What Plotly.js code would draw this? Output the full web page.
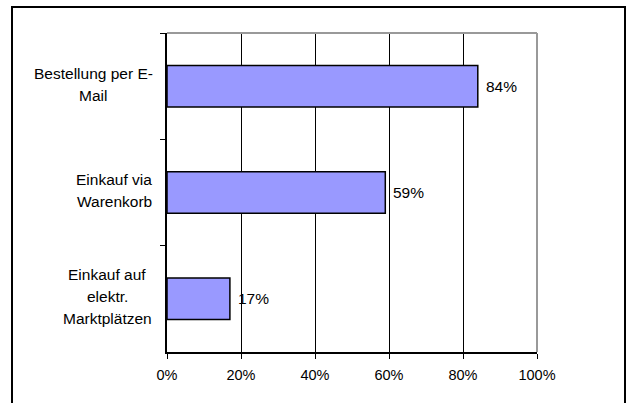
<!DOCTYPE html>
<html>
<head>
<meta charset="utf-8">
<script src="https://cdn.plot.ly/plotly-3.0.1.min.js"></script>
<style>
  html, body { margin: 0; padding: 0; width: 626px; height: 403px; overflow: hidden; background: #fff; }
  #chart { position: absolute; left: 0; top: 0; width: 626px; height: 403px; }
  #frame { position: absolute; left: 11px; top: 6px; width: 615px; height: 430px; box-sizing: border-box; border: 2px solid #000; pointer-events: none; }
</style>
</head>
<body>
<div id="chart"></div>
<div id="frame"></div>
<script>
// ---- data ----
const categories = ["Bestellung per E-Mail", "Einkauf via Warenkorb", "Einkauf auf elektr. Marktplätzen"];
const labelLines = [["Bestellung per E-", "Mail"], ["Einkauf via", "Warenkorb"], ["Einkauf auf", "elektr.", "Marktplätzen"]];
const values = [0.84, 0.59, 0.17];
const valueLabels = ["84%", "59%", "17%"];
const xTickVals = [0, 0.2, 0.4, 0.6, 0.8, 1.0];
const xTickText = ["0%", "20%", "40%", "60%", "80%", "100%"];

// ---- styling / layout ----
const FONT = "Liberation Sans, Arial, sans-serif";
const labelCenterPx = [93, 114, 107];   // horizontal centre of each label block (px)
const plotLeft = 167, plotRight = 537, plotTop = 33, plotBottom = 352;

const annotations = [];
categories.forEach((c, k) => {
  const lines = labelLines[k];
  const mid = (lines.length - 1) / 2;
  lines.forEach((ln, i) => {
    annotations.push({
      xref: "paper", yref: "y", x: 0, y: c,
      text: ln, showarrow: false,
      xanchor: "center", yanchor: "middle",
      xshift: labelCenterPx[k] - plotLeft,
      yshift: (mid - i) * 22 + 2,
      font: { family: FONT, size: 15.5, color: "#000" }
    });
  });
  annotations.push({
    xref: "x", yref: "y", x: values[k], y: c,
    text: valueLabels[k], showarrow: false,
    xanchor: "left", yanchor: "middle", xshift: 6,
    font: { family: FONT, size: 15.5, color: "#000" }
  });
});

const trace = {
  type: "bar", orientation: "h",
  x: values, y: categories,
  width: 0.39,
  marker: { color: "#9999FF", line: { color: "#000", width: 1.5 } },
  hoverinfo: "none"
};

const layout = {
  width: 626, height: 403,
  margin: { l: plotLeft, r: 626 - plotRight, t: plotTop, b: 403 - plotBottom, pad: 0 },
  paper_bgcolor: "rgba(0,0,0,0)", plot_bgcolor: "#fff",
  showlegend: false,
  font: { family: FONT, size: 14, color: "#000" },
  xaxis: {
    range: [0, 1], tickvals: xTickVals, ticktext: xTickText,
    showgrid: true, gridcolor: "#000", gridwidth: 1,
    zeroline: false, showline: true, linecolor: "#000", linewidth: 1.5,
    ticks: "outside", ticklen: 5, tickcolor: "#000", tickwidth: 1,
    ticklabelstandoff: 4,
    tickfont: { family: FONT, size: 14.5, color: "#000" },
    fixedrange: true
  },
  yaxis: {
    type: "category", autorange: "reversed",
    showticklabels: false, showgrid: false, zeroline: false,
    showline: true, linecolor: "#000", linewidth: 2,
    ticks: "outside", tickson: "boundaries", ticklen: 5, tickcolor: "#000", tickwidth: 1,
    fixedrange: true
  },
  shapes: [
    { type: "line", xref: "paper", yref: "paper", x0: 0, x1: 1, y0: 1, y1: 1, line: { color: "#999", width: 2 }, layer: "above" },
    { type: "line", xref: "paper", yref: "paper", x0: 1, x1: 1, y0: 0, y1: 1, line: { color: "#999", width: 2 }, layer: "above" }
  ],
  annotations: annotations
};

Plotly.newPlot("chart", [trace], layout, { displayModeBar: false, staticPlot: true });
</script>
</body>
</html>
